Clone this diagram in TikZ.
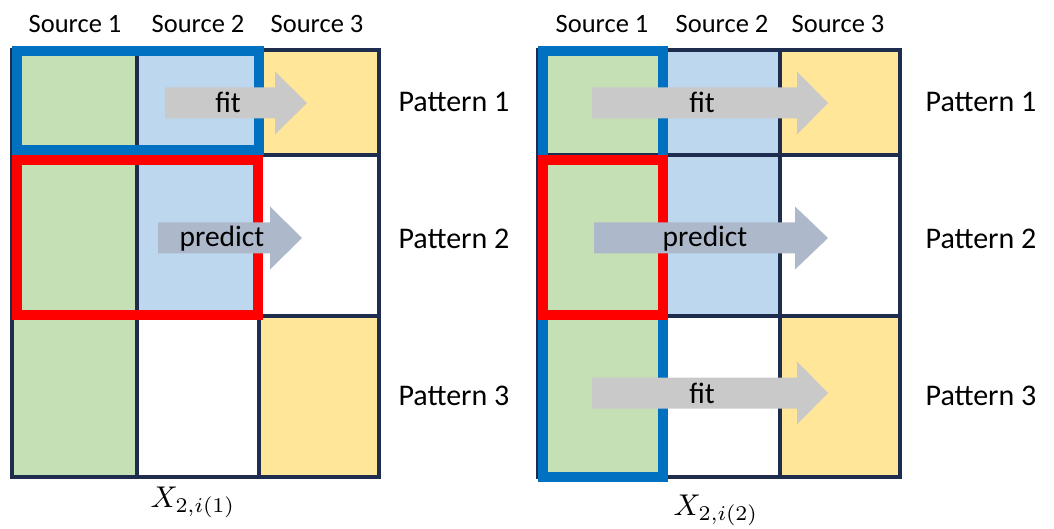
\documentclass[tikz,border=0pt]{standalone}
\usepackage{fontspec}
\setmainfont{Carlito}
\definecolor{cgreen}{HTML}{C5E0B4}
\definecolor{cblue}{HTML}{BDD7EE}
\definecolor{cyellow}{HTML}{FFE699}
\definecolor{navy}{HTML}{1E2D4E}
\definecolor{boxblue}{HTML}{0070C0}
\definecolor{boxred}{HTML}{FF0000}
\definecolor{fitgrey}{HTML}{C9C9C9}
\definecolor{predgrey}{HTML}{ADB9CA}
\newcommand{\drawgrid}[4]{%
  \fill[cgreen] (#1,50) rectangle (#2,477);
  \fill[cblue] (#2,50) rectangle (#3,316);
  \fill[cyellow] (#3,50) rectangle (#4,155);
  \fill[cyellow] (#3,316) rectangle (#4,477);
  \draw[gridline] (#1,50) rectangle (#4,477);
  \draw[gridline] (#2,50) -- (#2,477) (#3,50) -- (#3,477)
                  (#1,155) -- (#4,155) (#1,316) -- (#4,316);
}
% #1 x start, #2 head start, #3 tip, #4 y centre, #5 colour
\newcommand{\blockarrow}[5]{%
  \fill[#5] (#1,#4-15.5) -- (#2,#4-15.5) -- (#2,#4-31.5) -- (#3,#4)
    -- (#2,#4+31.5) -- (#2,#4+15.5) -- (#1,#4+15.5) -- cycle;
}
\newcommand{\biglabel}[1]{\scalebox{3.0}{$#1$}}
\begin{document}
\begin{tikzpicture}[x=1pt,y=-1pt,
  gridline/.style={draw=navy,line width=3.2pt},
  bluebox/.style={draw=boxblue,line width=10pt},
  redbox/.style={draw=boxred,line width=10pt},
  srclbl/.style={inner sep=0pt,anchor=base,font=\fontsize{26.5}{30}\selectfont},
  patlbl/.style={inner sep=0pt,anchor=base,font=\fontsize{30}{34}\selectfont},
  arrlbl/.style={inner sep=0pt,anchor=base,font=\fontsize{29.5}{33}\selectfont},
  mathlbl/.style={inner sep=0pt,anchor=base}]
\useasboundingbox (0,0) rectangle (1054,529);

% ---------- left grid ----------
\drawgrid{12}{137}{259}{379}
\draw[bluebox] (17,51) rectangle (259,150);
\draw[redbox] (17,160) rectangle (258,315);
\blockarrow{165}{275}{307}{103}{fitgrey}
\blockarrow{158}{270}{302}{238}{predgrey}
\node[arrlbl] (lfit) at (228,113) {fit};
\node[arrlbl] (lpred) at (222,247) {predict};

\node[srclbl] (ls1) at (75,33) {Source 1};
\node[srclbl] (ls2) at (198,33) {Source 2};
\node[srclbl] (ls3) at (317,33) {Source 3};
\node[patlbl] (lp1) at (454,112) {Pattern 1};
\node[patlbl] (lp2) at (454,248) {Pattern 2};
\node[patlbl] (lp3) at (454,405) {Pattern 3};
\node[mathlbl] (lx) at (193,507) {\biglabel{X_{2,i(1)}}};

% ---------- right grid ----------
\drawgrid{538}{663}{780}{900}
\draw[bluebox] (543,51) rectangle (663,477);
\draw[redbox] (543,160) rectangle (663,315);
\blockarrow{592}{797}{828}{103}{fitgrey}
\blockarrow{594}{795}{828}{238}{predgrey}
\blockarrow{592}{797}{828}{393}{fitgrey}
\node[arrlbl] (rfit1) at (702,113) {fit};
\node[arrlbl] (rpred) at (705,247) {predict};
\node[arrlbl] (rfit3) at (702,403) {fit};

\node[srclbl] (rs1) at (602,33) {Source 1};
\node[srclbl] (rs2) at (722,33) {Source 2};
\node[srclbl] (rs3) at (838,33) {Source 3};
\node[patlbl] (rp1) at (981,112) {Pattern 1};
\node[patlbl] (rp2) at (981,248) {Pattern 2};
\node[patlbl] (rp3) at (981,405) {Pattern 3};
\node[mathlbl] (rx) at (716,515) {\biglabel{X_{2,i(2)}}};
\end{tikzpicture}
\end{document}
